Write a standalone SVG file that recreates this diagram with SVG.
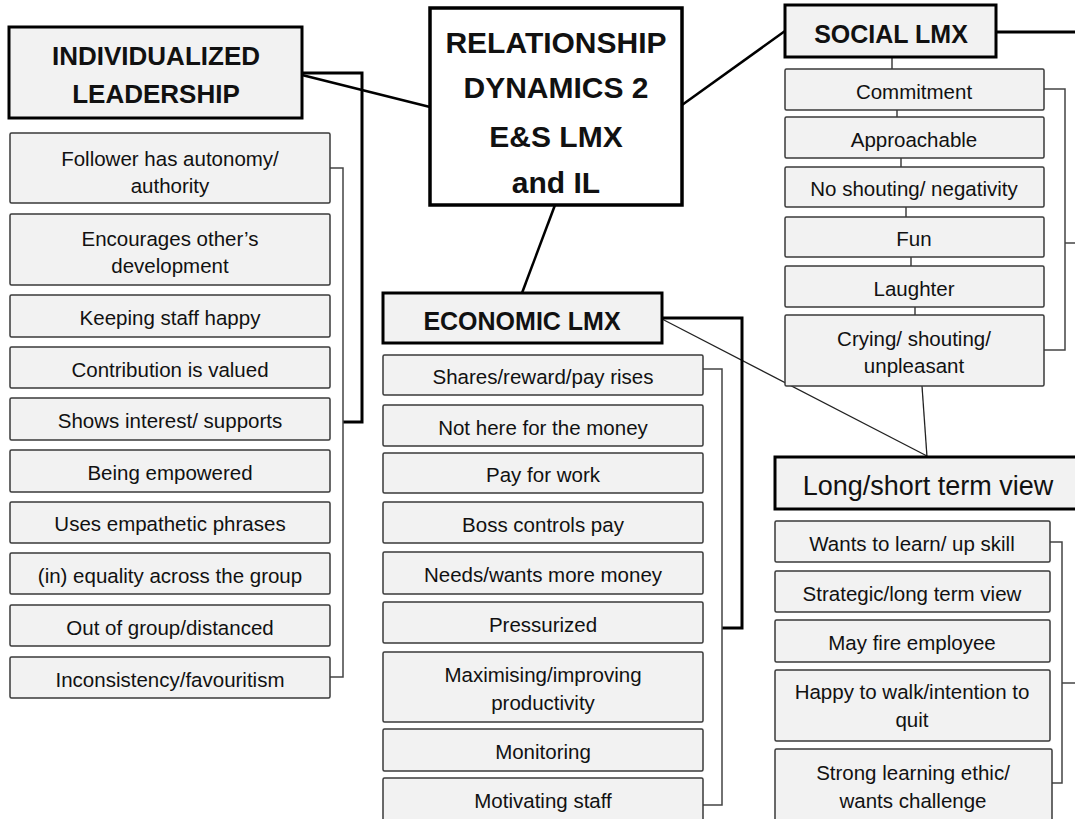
<svg xmlns="http://www.w3.org/2000/svg" width="1075" height="819" viewBox="0 0 1075 819">
<style>
.item{fill:#f2f2f2;stroke:#3a3a3a;stroke-width:1.5}
.hdr{fill:#f2f2f2;stroke:#000;stroke-width:3}
.main{fill:#fff;stroke:#000;stroke-width:3.5}
text{font-family:"Liberation Sans",Arial,sans-serif;fill:#111;text-anchor:middle}
.t{font-size:20.5px}
.h{font-size:25px;font-weight:bold}
.thin{fill:none;stroke:#444;stroke-width:1.5}
.thick{fill:none;stroke:#000;stroke-width:3}
.link{fill:none;stroke:#000;stroke-width:2.5}
.fine{fill:none;stroke:#222;stroke-width:1.3}
</style>
<rect width="1075" height="819" fill="#fff"/>

<g id="connectors">
<line class="link" x1="302" y1="75" x2="430" y2="107"/>
<line class="link" x1="682" y1="105" x2="785" y2="31"/>
<line class="link" x1="555" y1="205" x2="522" y2="293"/>
<line class="fine" x1="662" y1="319" x2="927" y2="456"/>
<polyline class="thick" points="302,73 362,73 362,422 343,422"/>
<polyline class="thin" points="330,168 343,168 343,677 330,677"/>
<polyline class="thick" points="662,318 742,318 742,628 722,628"/>
<polyline class="thin" points="703,369 722,369 722,805 703,805"/>
<line class="thick" x1="996" y1="32" x2="1075" y2="32"/>
<polyline class="thin" points="1044,89 1065,89 1065,350 1044,350"/>
<line class="thin" x1="1065" y1="243" x2="1075" y2="243"/>
<polyline class="thin" points="1050,542 1062,542 1062,783 1052,783"/>
<line class="thin" x1="1062" y1="683" x2="1075" y2="683"/>
<line class="fine" x1="892" y1="57" x2="892" y2="69"/>
<line class="fine" x1="897" y1="110" x2="897" y2="117"/>
<line class="fine" x1="901" y1="158" x2="901" y2="167"/>
<line class="fine" x1="906" y1="207" x2="906" y2="217"/>
<line class="fine" x1="911" y1="257" x2="911" y2="266"/>
<line class="fine" x1="915" y1="307" x2="915" y2="315"/>
<line class="fine" x1="922" y1="386" x2="927" y2="457"/>
</g>

<g id="central">
<rect class="main" x="430" y="8" width="252" height="197"/>
<text x="556" y="53" style="font-size:30px;font-weight:bold">RELATIONSHIP</text>
<text x="556" y="98" style="font-size:30px;font-weight:bold">DYNAMICS 2</text>
<text x="556" y="147" style="font-size:30px;font-weight:bold">E&amp;S LMX</text>
<text x="556" y="193" style="font-size:30px;font-weight:bold">and IL</text>
</g>

<g id="il-header">
<rect class="hdr" x="9" y="27" width="293" height="91"/>
<text class="h" x="156" y="65" style="font-size:26px">INDIVIDUALIZED</text>
<text class="h" x="156" y="103" style="font-size:26px">LEADERSHIP</text>
</g>
<g id="il-1"><rect class="item" x="10" y="133" width="320" height="70" rx="1.5"/><text class="t" x="170" y="166">Follower has autonomy/</text><text class="t" x="170" y="193">authority</text></g>
<g id="il-2"><rect class="item" x="10" y="214" width="320" height="71" rx="1.5"/><text class="t" x="170" y="246">Encourages other’s</text><text class="t" x="170" y="273">development</text></g>
<g id="il-3"><rect class="item" x="10" y="295" width="320" height="42" rx="1.5"/><text class="t" x="170" y="325">Keeping staff happy</text></g>
<g id="il-4"><rect class="item" x="10" y="347" width="320" height="41" rx="1.5"/><text class="t" x="170" y="377">Contribution is valued</text></g>
<g id="il-5"><rect class="item" x="10" y="398" width="320" height="42" rx="1.5"/><text class="t" x="170" y="428">Shows interest/ supports</text></g>
<g id="il-6"><rect class="item" x="10" y="450" width="320" height="42" rx="1.5"/><text class="t" x="170" y="480">Being empowered</text></g>
<g id="il-7"><rect class="item" x="10" y="502" width="320" height="41" rx="1.5"/><text class="t" x="170" y="531">Uses empathetic phrases</text></g>
<g id="il-8"><rect class="item" x="10" y="553" width="320" height="41" rx="1.5"/><text class="t" x="170" y="583">(in) equality across the group</text></g>
<g id="il-9"><rect class="item" x="10" y="605" width="320" height="41" rx="1.5"/><text class="t" x="170" y="635">Out of group/distanced</text></g>
<g id="il-10"><rect class="item" x="10" y="657" width="320" height="41" rx="1.5"/><text class="t" x="170" y="687">Inconsistency/favouritism</text></g>

<g id="social-header">
<rect class="hdr" x="785" y="5" width="211" height="52"/>
<text class="h" x="891" y="43">SOCIAL LMX</text>
</g>
<g id="s-1"><rect class="item" x="785" y="69" width="259" height="41" rx="1.5"/><text class="t" x="914" y="99">Commitment</text></g>
<g id="s-2"><rect class="item" x="785" y="117" width="259" height="41" rx="1.5"/><text class="t" x="914" y="147">Approachable</text></g>
<g id="s-3"><rect class="item" x="785" y="167" width="259" height="40" rx="1.5"/><text class="t" x="914" y="196">No shouting/ negativity</text></g>
<g id="s-4"><rect class="item" x="785" y="217" width="259" height="40" rx="1.5"/><text class="t" x="914" y="246">Fun</text></g>
<g id="s-5"><rect class="item" x="785" y="266" width="259" height="41" rx="1.5"/><text class="t" x="914" y="296">Laughter</text></g>
<g id="s-6"><rect class="item" x="785" y="315" width="259" height="71" rx="1.5"/><text class="t" x="914" y="346">Crying/ shouting/</text><text class="t" x="914" y="373">unpleasant</text></g>

<g id="economic-header">
<rect class="hdr" x="383" y="293" width="279" height="50"/>
<text class="h" x="522" y="330">ECONOMIC LMX</text>
</g>
<g id="e-1"><rect class="item" x="383" y="355" width="320" height="40" rx="1.5"/><text class="t" x="543" y="384">Shares/reward/pay rises</text></g>
<g id="e-2"><rect class="item" x="383" y="405" width="320" height="41" rx="1.5"/><text class="t" x="543" y="435">Not here for the money</text></g>
<g id="e-3"><rect class="item" x="383" y="453" width="320" height="40" rx="1.5"/><text class="t" x="543" y="482">Pay for work</text></g>
<g id="e-4"><rect class="item" x="383" y="502" width="320" height="41" rx="1.5"/><text class="t" x="543" y="532">Boss controls pay</text></g>
<g id="e-5"><rect class="item" x="383" y="552" width="320" height="42" rx="1.5"/><text class="t" x="543" y="582">Needs/wants more money</text></g>
<g id="e-6"><rect class="item" x="383" y="602" width="320" height="41" rx="1.5"/><text class="t" x="543" y="632">Pressurized</text></g>
<g id="e-7"><rect class="item" x="383" y="652" width="320" height="70" rx="1.5"/><text class="t" x="543" y="682">Maximising/improving</text><text class="t" x="543" y="710">productivity</text></g>
<g id="e-8"><rect class="item" x="383" y="729" width="320" height="42" rx="1.5"/><text class="t" x="543" y="759">Monitoring</text></g>
<g id="e-9"><rect class="item" x="383" y="778" width="320" height="45" rx="1.5"/><text class="t" x="543" y="808">Motivating staff</text></g>

<g id="term-header">
<rect class="hdr" x="775" y="457" width="310" height="52"/>
<text x="928" y="495" style="font-size:27px">Long/short term view</text>
</g>
<g id="l-1"><rect class="item" x="775" y="521" width="275" height="41" rx="1.5"/><text class="t" x="912" y="551">Wants to learn/ up skill</text></g>
<g id="l-2"><rect class="item" x="775" y="571" width="275" height="41" rx="1.5"/><text class="t" x="912" y="601">Strategic/long term view</text></g>
<g id="l-3"><rect class="item" x="775" y="620" width="275" height="42" rx="1.5"/><text class="t" x="912" y="650">May fire employee</text></g>
<g id="l-4"><rect class="item" x="775" y="670" width="275" height="71" rx="1.5"/><text class="t" x="912" y="699">Happy to walk/intention to</text><text class="t" x="912" y="727">quit</text></g>
<g id="l-5"><rect class="item" x="775" y="749" width="277" height="74" rx="1.5"/><text class="t" x="913" y="780">Strong learning ethic/</text><text class="t" x="913" y="808">wants challenge</text></g>
</svg>
